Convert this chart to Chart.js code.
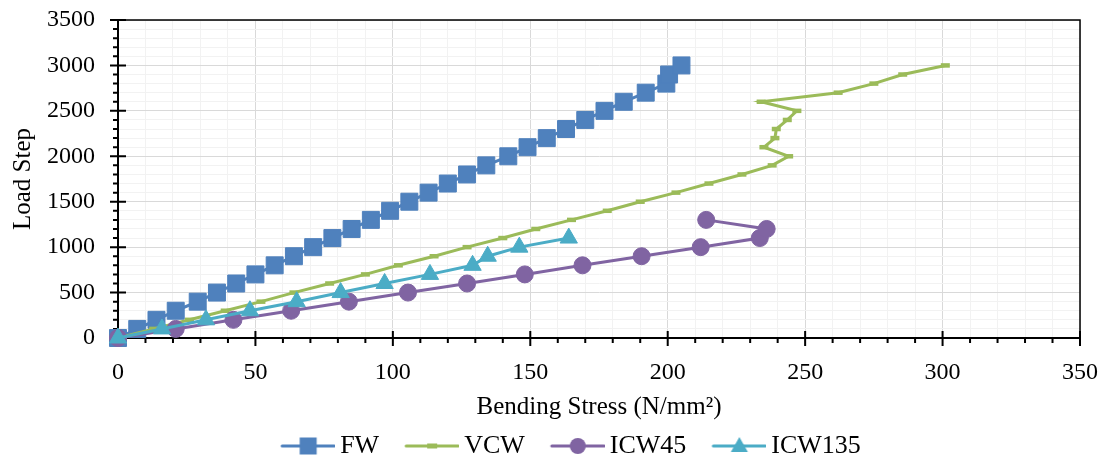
<!DOCTYPE html>
<html>
<head>
<meta charset="utf-8">
<script src="https://cdn.jsdelivr.net/npm/chart.js@4.4.0/dist/chart.umd.min.js"></script>
<style>
  html, body { margin: 0; padding: 0; background: #fff; }
</style>
</head>
<body>
<canvas id="chart" width="1105" height="462"></canvas>
<script>
// Values (stress in N/mm2, load in steps)
const fwStress = [0, 7, 14, 21, 29, 36, 43, 50, 57, 64, 71, 78, 85, 92, 99, 106, 113, 120, 127, 134, 142, 149, 156, 163, 170, 177, 184, 192, 199.5, 200.5, 205];
const fwLoad = [0, 100, 200, 300, 400, 500, 600, 700, 800, 900, 1000, 1100, 1200, 1300, 1400, 1500, 1600, 1700, 1800, 1900, 2000, 2100, 2200, 2300, 2400, 2500, 2600, 2700, 2800, 2900, 3000];

const vcwStress = [0, 13, 26, 39, 52, 64, 77, 90, 102, 115, 127, 140, 152, 165, 178, 190, 203, 215, 227, 238, 244, 235, 239, 239.5, 243.5, 247, 234, 262, 275, 285.5, 301];
const vcwLoad = [0, 100, 200, 300, 400, 500, 600, 700, 800, 900, 1000, 1100, 1200, 1300, 1400, 1500, 1600, 1700, 1800, 1900, 2000, 2100, 2200, 2300, 2400, 2500, 2600, 2700, 2800, 2900, 3000];

const icw45Stress = [0, 21, 42, 63, 84, 105.5, 127, 148, 169, 190.5, 212, 233.5, 236, 214];
const icw45Load = [0, 100, 200, 300, 400, 500, 600, 700, 800, 900, 1000, 1100, 1200, 1300];

const icw135Stress = [0, 16, 32, 48, 65, 81, 97, 113.5, 129, 134.5, 146, 164];
const icw135Load = [0, 100, 200, 300, 400, 500, 600, 700, 800, 900, 1000, 1100];

const seriesNames = ['FW', 'VCW', 'ICW45', 'ICW135'];
const seriesColors = ['#4F81BD', '#9BBB59', '#8064A2', '#4BACC6'];

const serif = "'Liberation Serif', 'Times New Roman', serif";

function toPoints(xs, ys) {
    return xs.map((v, i) => ({ x: v, y: ys[i] }));
}

// Legend swatch: line with the marker in the middle
function swatch(color, marker) {
    const c = document.createElement('canvas');
    c.width = 82;
    c.height = 24;
    const g = c.getContext('2d');
    const cx = 55, cy = 12;
    g.strokeStyle = color;
    g.fillStyle = color;
    g.lineWidth = 3;
    g.lineCap = 'round';
    g.beginPath();
    g.moveTo(29, cy);
    g.lineTo(81, cy);
    g.stroke();
    g.beginPath();
    if (marker === 'rect') {
        g.rect(cx - 8.5, cy - 8.5, 17, 17);
        g.fill();
    } else if (marker === 'circle') {
        g.arc(cx, cy, 8, 0, Math.PI * 2);
        g.fill();
    } else if (marker === 'triangle') {
        g.moveTo(cx, cy - 9);
        g.lineTo(cx + 8.5, cy + 6);
        g.lineTo(cx - 8.5, cy + 6);
        g.closePath();
        g.fill();
    } else {
        g.rect(cx - 5, cy - 2.5, 10, 5);
        g.fill();
    }
    return c;
}

const markers = ['rect', 'line', 'circle', 'triangle'];

// Tick marks in the Excel style and the top/right frame
const axisFrame = {
    id: 'axisFrame',
    afterLayout(chart) {
        // legend sits a bit right of the canvas centre in the original
        chart.legend.left += 21;
        chart.legend.right += 21;
    },
    beforeDatasetsDraw(chart) {
        const { ctx, chartArea: a, scales: { x, y } } = chart;
        ctx.save();
        ctx.strokeStyle = '#000';
        ctx.lineWidth = 1.5;
        ctx.beginPath();
        ctx.moveTo(a.left, a.top);
        ctx.lineTo(a.right, a.top);
        ctx.lineTo(a.right, a.bottom);
        ctx.stroke();
        ctx.lineWidth = 2;
        ctx.beginPath();
        x.ticks.forEach(t => {
            const px = x.getPixelForValue(t.value);
            const major = t.value % 50 === 0;
            ctx.moveTo(px, a.bottom + (major ? 8 : 5));
            ctx.lineTo(px, major ? a.bottom - 7 : a.bottom);
        });
        y.ticks.forEach(t => {
            const py = y.getPixelForValue(t.value);
            const major = t.value % 500 === 0;
            ctx.moveTo(a.left - (major ? 8 : 5), py);
            ctx.lineTo(major ? a.left + 8 : a.left, py);
        });
        ctx.stroke();
        ctx.restore();
    }
};

const ctx = document.getElementById('chart');

const datasets = [
    {
        label: 'FW',
        data: toPoints(fwStress, fwLoad),
        borderColor: seriesColors[0],
        backgroundColor: seriesColors[0],
        borderWidth: 3,
        pointStyle: 'rect',
        pointRadius: 12,
        pointBorderWidth: 1,
        order: 3
    },
    {
        label: 'VCW',
        data: toPoints(vcwStress, vcwLoad),
        borderColor: seriesColors[1],
        backgroundColor: seriesColors[1],
        borderWidth: 3,
        pointStyle: 'line',
        pointRadius: 4.5,
        pointBorderWidth: 4.5,
        order: 2
    },
    {
        label: 'ICW45',
        data: toPoints(icw45Stress, icw45Load),
        borderColor: seriesColors[2],
        backgroundColor: seriesColors[2],
        borderWidth: 3,
        pointStyle: 'circle',
        pointRadius: 8.5,
        pointBorderWidth: 1,
        order: 1
    },
    {
        label: 'ICW135',
        data: toPoints(icw135Stress, icw135Load),
        borderColor: seriesColors[3],
        backgroundColor: seriesColors[3],
        borderWidth: 3,
        pointStyle: 'triangle',
        pointRadius: 10,
        pointBorderWidth: 1,
        order: 0
    }
];
datasets.forEach(d => {
    d.showLine = true;
    d.tension = 0;
    d.clip = false;
    d.pointBackgroundColor = d.backgroundColor;
    d.pointBorderColor = d.borderColor;
});

new Chart(ctx, {
    type: 'scatter',
    data: { datasets: datasets },
    options: {
        responsive: false,
        animation: false,
        layout: {
            padding: { left: 0, right: 25, top: 20, bottom: -7 }
        },
        scales: {
            x: {
                type: 'linear',
                min: 0,
                max: 350,
                afterFit: s => { s.height = 89; },
                title: {
                    display: true,
                    text: 'Bending Stress (N/mm²)',
                    color: '#000',
                    font: { family: serif, size: 25 },
                    padding: { top: 0, bottom: 5 }
                },
                grid: {
                    color: c => c.tick && c.tick.value % 50 === 0 ? '#D9D9D9' : '#F2F2F2',
                    lineWidth: 1,
                    tickLength: 20,
                    tickColor: 'rgba(0,0,0,0)'
                },
                border: { color: '#000', width: 2 },
                ticks: {
                    stepSize: 10,
                    autoSkip: false,
                    maxRotation: 0,
                    padding: 0,
                    color: '#000',
                    font: { family: serif, size: 24 },
                    callback: v => v % 50 === 0 ? v : ''
                }
            },
            y: {
                type: 'linear',
                min: 0,
                max: 3500,
                afterFit: s => { s.width = 118; },
                title: {
                    display: true,
                    text: 'Load Step',
                    color: '#000',
                    font: { family: serif, size: 25 },
                    padding: { top: 8, bottom: 0 }
                },
                grid: {
                    color: c => c.tick && c.tick.value % 500 === 0 ? '#D9D9D9' : '#F2F2F2',
                    lineWidth: 1,
                    tickLength: 23,
                    tickColor: 'rgba(0,0,0,0)'
                },
                border: { color: '#000', width: 2 },
                ticks: {
                    stepSize: 100,
                    autoSkip: false,
                    padding: 0,
                    color: '#000',
                    font: { family: serif, size: 24 },
                    callback: v => v % 500 === 0 ? v : ''
                }
            }
        },
        plugins: {
            legend: {
                position: 'bottom',
                labels: {
                    usePointStyle: true,
                    pointStyleWidth: 66,
                    padding: 6,
                    color: '#000',
                    font: { family: serif, size: 26 },
                    generateLabels: chart => seriesNames.map((name, i) => ({
                        text: name,
                        pointStyle: swatch(seriesColors[i], markers[i]),
                        fillStyle: seriesColors[i],
                        strokeStyle: seriesColors[i],
                        lineWidth: 0,
                        hidden: false,
                        datasetIndex: i
                    }))
                }
            },
            tooltip: { enabled: false }
        }
    },
    plugins: [axisFrame]
});
</script>
</body>
</html>
